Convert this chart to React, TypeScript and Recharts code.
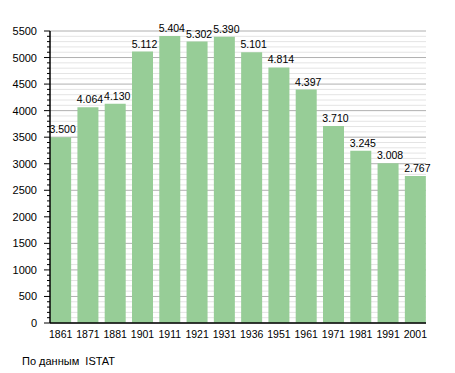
import React from 'react';
import { BarChart, Bar, XAxis, YAxis, CartesianGrid, LabelList } from 'recharts';

const years = ['1861', '1871', '1881', '1901', '1911', '1921', '1931', '1936', '1951', '1961', '1971', '1981', '1991', '2001'];
const population = [3500, 4064, 4130, 5112, 5404, 5302, 5390, 5101, 4814, 4397, 3710, 3245, 3008, 2767];
const yTicks = Array.from({ length: 56 }, (_, i) => i * 100);
const majorTicks = yTicks.filter(v => v % 500 === 0);
const minorTicks = yTicks.filter(v => v % 500 !== 0);
const sourceNote = 'По данным  ISTAT';

const data = years.map((year, i) => ({ year, value: population[i] }));

const FONT = '"Liberation Sans", Arial, sans-serif';

// dot as thousands separator, like the original
const fmt = (v: number) => {
  const s = String(v);
  return s.length > 3 ? s.slice(0, -3) + '.' + s.slice(-3) : s;
};

const YTick = (props: any) => {
  const { x, y, payload } = props;
  const major = payload.value % 500 === 0;
  const ax = x + 2; // axis line position
  const len = major ? 6 : 3;
  return (
    <g>
      <line x1={ax - len} y1={y} x2={ax} y2={y} stroke="#000" strokeWidth={1} />
      {major && (
        <text x={ax - 13} y={y} dy={4} textAnchor="end" fontSize={11} fontFamily={FONT} fill="#000">
          {payload.value}
        </text>
      )}
    </g>
  );
};

const ValueLabel = (props: any) => {
  const { x, y, width, value } = props;
  return (
    <text x={x + width / 2 + 2} y={y - 4} textAnchor="middle" fontSize={10.5} fontFamily={FONT} fill="#000">
      {fmt(Number(value))}
    </text>
  );
};

export default function App() {
  return (
    <div style={{ position: 'absolute', left: 0, top: 0, width: 455, height: 373, background: '#fff' }}>
      <BarChart
        width={455}
        height={373}
        data={data}
        margin={{ top: 31, right: 29, bottom: 30, left: 0 }}
        barCategoryGap="11.5%"
      >
        <CartesianGrid vertical={false} horizontalValues={minorTicks} stroke="#e4e4e4" />
        <CartesianGrid vertical={false} horizontalValues={majorTicks} stroke="#b0b0b0" />
        <XAxis
          dataKey="year"
          height={20}
          padding={{ left: -3, right: -3 }}
          axisLine={{ stroke: '#000', strokeWidth: 1.5 }}
          tickLine={false}
          tick={{ fontSize: 10.5, fontFamily: FONT, fill: '#000' }}
          tickMargin={2}
          interval={0}
        />
        <YAxis
          width={50}
          domain={[0, 5500]}
          ticks={yTicks}
          interval={0}
          axisLine={{ stroke: '#000', strokeWidth: 1.5 }}
          tickLine={false}
          tickSize={0}
          tick={<YTick />}
        />
        <Bar dataKey="value" fill="#97cd97" isAnimationActive={false}>
          <LabelList dataKey="value" content={<ValueLabel />} />
        </Bar>
      </BarChart>
      <div
        style={{
          position: 'absolute',
          left: 22,
          top: 355,
          fontSize: 11,
          fontFamily: FONT,
          color: '#000',
          whiteSpace: 'pre',
        }}
      >
        {sourceNote}
      </div>
    </div>
  );
}
